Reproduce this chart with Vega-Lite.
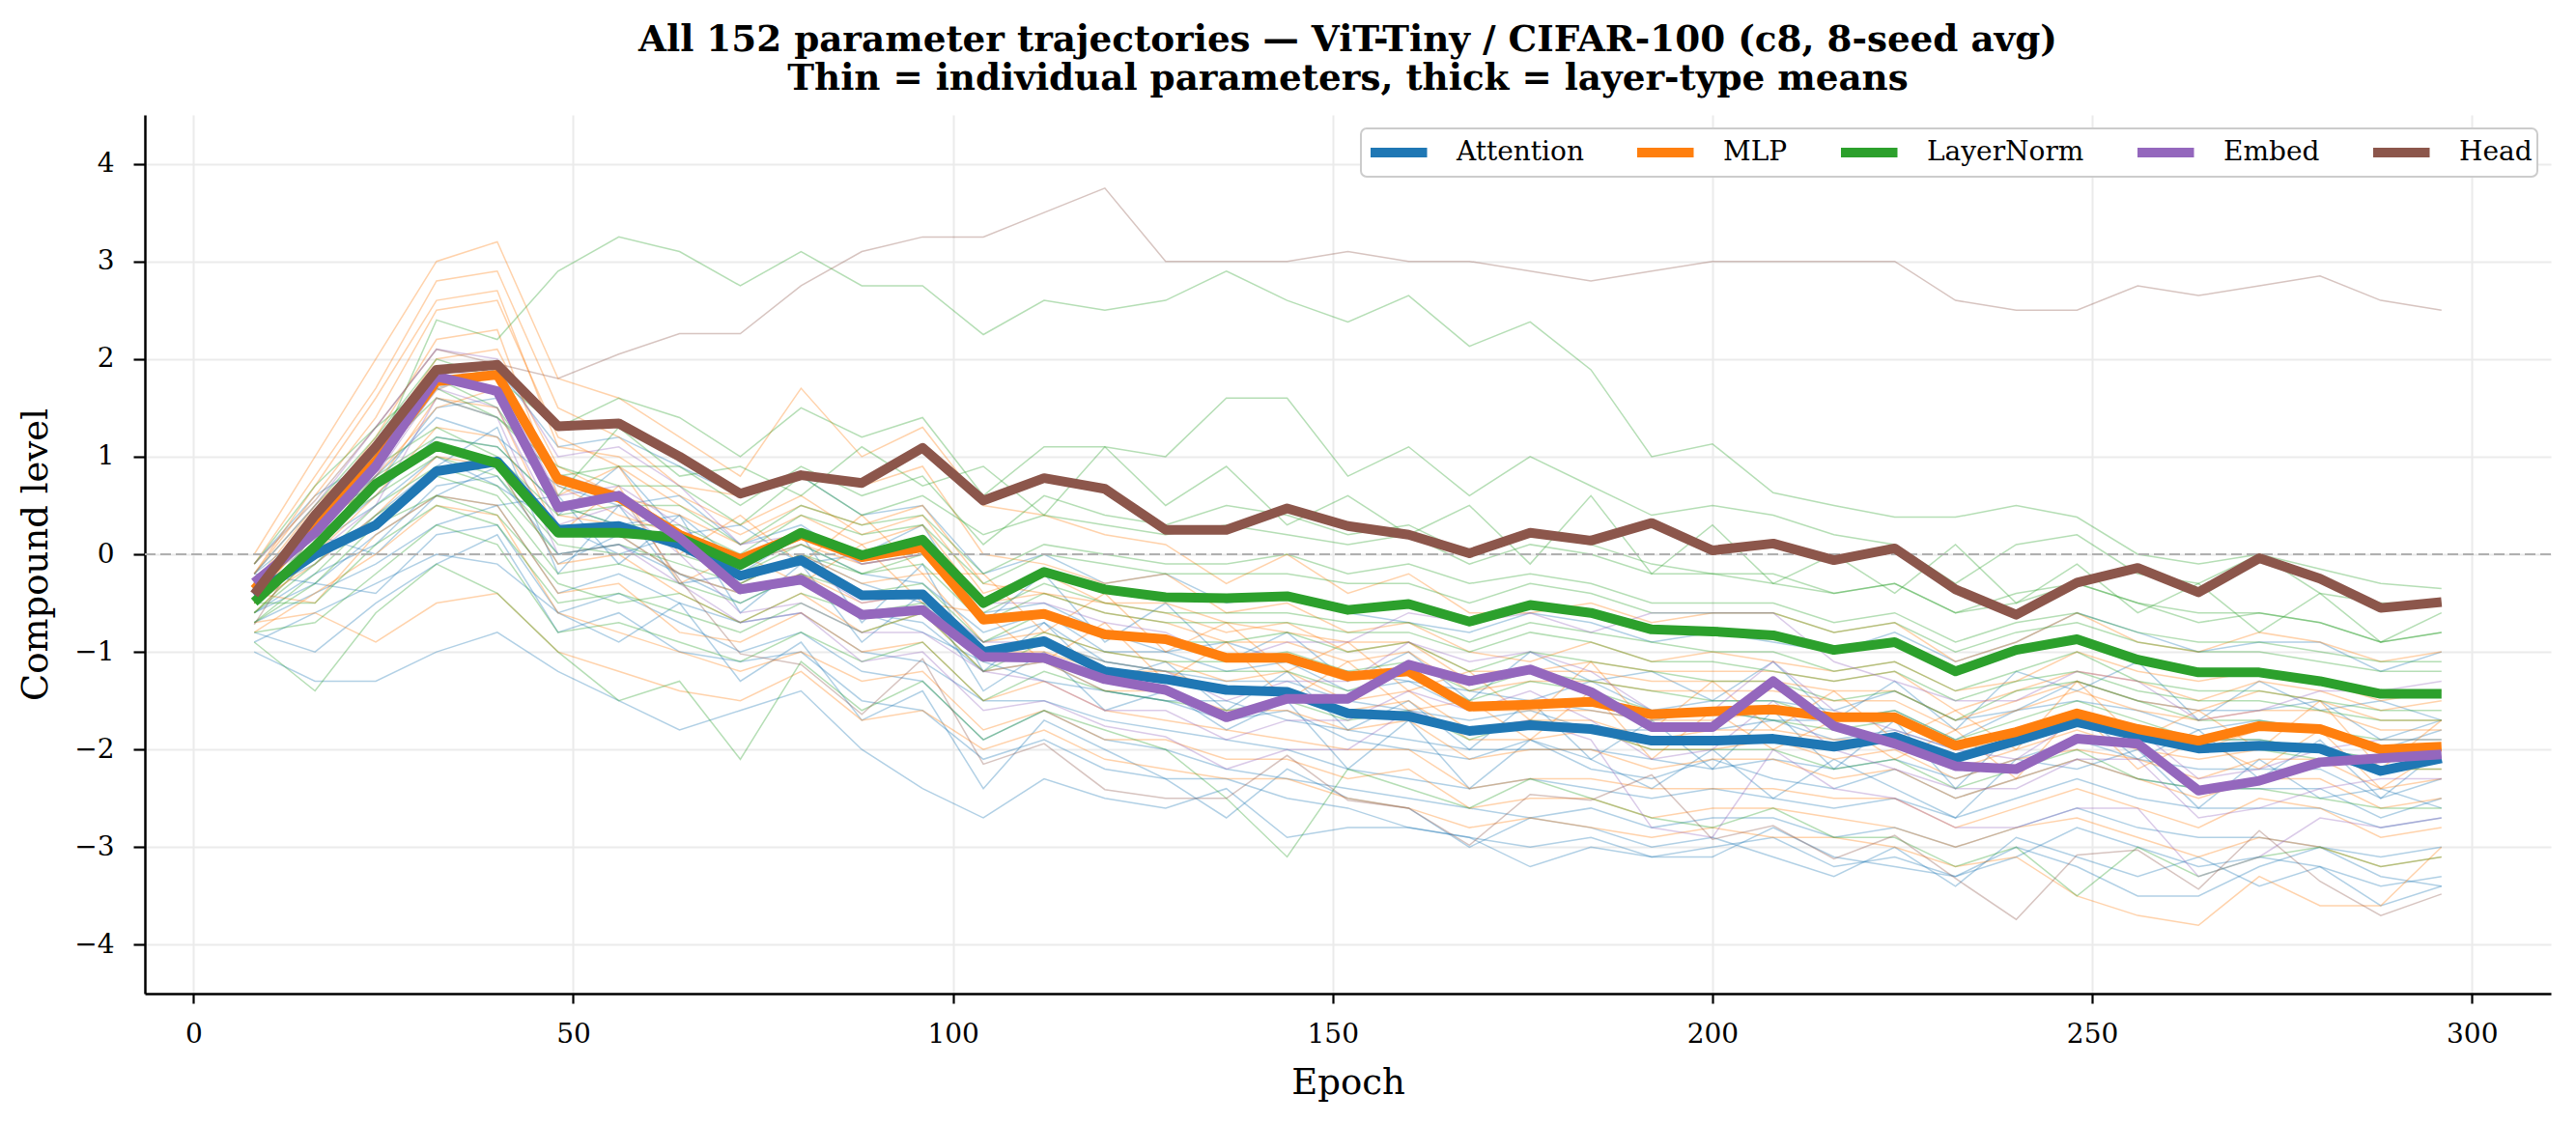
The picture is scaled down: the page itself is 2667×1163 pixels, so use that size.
{
  "$schema": "https://vega.github.io/schema/vega-lite/v6.json",
  "width": 2491,
  "height": 910,
  "autosize": {"type": "none"},
  "padding": {"left": 150, "top": 119, "right": 26, "bottom": 134},
  "background": "white",
  "title": {
    "text": ["All 152 parameter trajectories — ViT-Tiny / CIFAR-100 (c8, 8-seed avg)", "Thin = individual parameters, thick = layer-type means"],
    "font": "DejaVu Serif",
    "fontSize": 37.3,
    "fontWeight": "bold",
    "color": "black",
    "anchor": "middle",
    "lineHeight": 40,
    "offset": 18
  },
  "config": {
    "font": "DejaVu Serif",
    "view": {"stroke": null},
    "axis": {
      "labelFont": "DejaVu Serif",
      "titleFont": "DejaVu Serif",
      "labelFontSize": 28,
      "titleFontSize": 37,
      "titleFontWeight": "normal",
      "labelColor": "black",
      "titleColor": "black",
      "domainColor": "black",
      "domainWidth": 2.5,
      "tickColor": "black",
      "tickWidth": 2.2,
      "gridColor": "#ebebeb",
      "gridWidth": 2
    },
    "legend": {
      "orient": "top-right",
      "direction": "horizontal",
      "columns": 5,
      "offset": 14,
      "padding": 5,
      "fillColor": "white",
      "strokeColor": "#cccccc",
      "strokeWidth": 2,
      "cornerRadius": 6,
      "labelFont": "DejaVu Serif",
      "labelFontSize": 28,
      "labelColor": "black",
      "labelLimit": 400,
      "symbolType": "M-1,0H2.9",
      "symbolSize": 900,
      "symbolStrokeWidth": 10,
      "labelOffset": 54,
      "columnPadding": 35
    }
  },
  "data": {"name": "trajectories"},
  "datasets": {
    "trajectories": [
      {"epoch":8,"Attention":-0.42,"MLP":-0.36,"LayerNorm":-0.49,"Embed":-0.29,"Head":-0.41,"A1":-0.1,"A2":-0.3,"A3":-0.5,"A4":-0.4,"A5":-0.6,"A6":-0.3,"A7":-0.7,"A8":-0.2,"A9":-0.8,"A10":-1.0,"A11":-0.2,"A12":-0.6,"A13":-0.9,"A14":-0.4,"M1":0.0,"M2":-0.1,"M3":-0.2,"M4":-0.3,"M5":-0.4,"M6":-0.5,"M7":-0.6,"M8":-0.5,"M9":-0.4,"M10":-0.7,"M11":-0.2,"M12":-0.5,"M13":-0.3,"M14":-0.8,"L1":-0.3,"L2":-0.2,"L3":-0.4,"L4":-0.6,"L5":-0.5,"L6":-0.7,"L7":-0.5,"L8":-0.8,"L9":-0.9,"L10":-0.1,"L11":-0.3,"L12":-0.6,"L13":-0.4,"L14":-0.7,"E1":-0.2,"E2":-0.3,"E3":-0.3,"E4":-0.4,"H1":-0.1,"H2":-0.72},
      {"epoch":16,"Attention":0.0,"MLP":0.3,"LayerNorm":0.08,"Embed":0.22,"Head":0.4,"A1":0.6,"A2":0.4,"A3":0.1,"A4":-0.1,"A5":-0.2,"A6":0.2,"A7":-0.4,"A8":-0.3,"A9":-1.0,"A10":-1.3,"A11":0.3,"A12":-0.3,"A13":-0.6,"A14":0.1,"M1":1.0,"M2":0.8,"M3":0.6,"M4":0.4,"M5":0.2,"M6":0.3,"M7":0.0,"M8":-0.1,"M9":-0.5,"M10":-0.6,"M11":0.7,"M12":0.1,"M13":0.5,"M14":-0.4,"L1":0.3,"L2":0.5,"L3":0.3,"L4":0.0,"L5":0.2,"L6":-0.2,"L7":-0.5,"L8":-0.7,"L9":-1.4,"L10":0.7,"L11":0.4,"L12":-0.1,"L13":0.2,"L14":-0.3,"E1":0.5,"E2":0.3,"E3":0.1,"E4":0.0,"H1":0.55,"H2":0.25},
      {"epoch":24,"Attention":0.3,"MLP":0.95,"LayerNorm":0.72,"Embed":0.9,"Head":1.1,"A1":1.0,"A2":0.7,"A3":0.6,"A4":0.4,"A5":0.1,"A6":0.0,"A7":-0.1,"A8":-0.4,"A9":-0.5,"A10":-1.3,"A11":0.8,"A12":0.2,"A13":-0.3,"A14":0.5,"M1":2.0,"M2":1.7,"M3":1.4,"M4":1.2,"M5":1.0,"M6":0.7,"M7":0.6,"M8":0.4,"M9":0.2,"M10":-0.9,"M11":1.6,"M12":0.8,"M13":1.1,"M14":0.0,"L1":1.0,"L2":1.2,"L3":1.0,"L4":0.9,"L5":0.6,"L6":0.4,"L7":0.1,"L8":-0.2,"L9":-0.6,"L10":1.3,"L11":1.1,"L12":0.5,"L13":0.8,"L14":0.3,"E1":1.3,"E2":1.0,"E3":0.8,"E4":0.5,"H1":1.3,"H2":0.9},
      {"epoch":32,"Attention":0.85,"MLP":1.77,"LayerNorm":1.11,"Embed":1.82,"Head":1.89,"A1":1.7,"A2":1.5,"A3":1.2,"A4":0.9,"A5":0.7,"A6":0.6,"A7":0.3,"A8":0.2,"A9":-0.1,"A10":-1.0,"A11":1.4,"A12":0.6,"A13":0.0,"A14":1.0,"M1":3.0,"M2":2.8,"M3":2.5,"M4":2.2,"M5":1.9,"M6":1.6,"M7":1.3,"M8":1.0,"M9":0.6,"M10":-0.5,"M11":2.6,"M12":1.5,"M13":2.0,"M14":0.5,"L1":2.4,"L2":2.0,"L3":1.6,"L4":1.3,"L5":1.0,"L6":0.8,"L7":0.5,"L8":0.3,"L9":-0.1,"L10":1.8,"L11":1.7,"L12":0.9,"L13":1.2,"L14":0.6,"E1":2.1,"E2":1.9,"E3":1.7,"E4":1.6,"H1":2.1,"H2":1.68},
      {"epoch":40,"Attention":0.95,"MLP":1.84,"LayerNorm":0.93,"Embed":1.67,"Head":1.94,"A1":1.9,"A2":1.6,"A3":1.1,"A4":1.3,"A5":0.8,"A6":0.5,"A7":0.5,"A8":0.3,"A9":0.2,"A10":-0.8,"A11":1.2,"A12":0.9,"A13":-0.1,"A14":0.7,"M1":3.2,"M2":2.9,"M3":2.6,"M4":2.3,"M5":1.9,"M6":1.5,"M7":1.2,"M8":0.9,"M9":0.5,"M10":-0.4,"M11":2.7,"M12":1.7,"M13":2.1,"M14":0.4,"L1":2.2,"L2":1.8,"L3":1.4,"L4":1.0,"L5":0.8,"L6":0.6,"L7":0.3,"L8":0.1,"L9":-0.4,"L10":1.5,"L11":1.4,"L12":0.7,"L13":1.1,"L14":0.4,"E1":2.0,"E2":1.8,"E3":1.5,"E4":1.4,"H1":1.95,"H2":1.93},
      {"epoch":48,"Attention":0.25,"MLP":0.77,"LayerNorm":0.22,"Embed":0.48,"Head":1.31,"A1":1.1,"A2":0.4,"A3":0.5,"A4":-0.2,"A5":0.0,"A6":0.6,"A7":-0.4,"A8":-0.6,"A9":-0.8,"A10":-1.2,"A11":0.7,"A12":-0.1,"A13":-0.6,"A14":0.3,"M1":1.8,"M2":1.5,"M3":1.2,"M4":0.6,"M5":0.7,"M6":0.2,"M7":0.2,"M8":-0.1,"M9":-0.4,"M10":-1.0,"M11":1.1,"M12":0.4,"M13":0.9,"M14":-0.6,"L1":2.9,"L2":1.3,"L3":0.8,"L4":0.4,"L5":0.1,"L6":-0.2,"L7":-0.5,"L8":-0.8,"L9":-1.0,"L10":0.6,"L11":0.9,"L12":0.0,"L13":0.5,"L14":-0.3,"E1":1.0,"E2":0.6,"E3":0.3,"E4":0.0,"H1":1.8,"H2":0.82},
      {"epoch":56,"Attention":0.29,"MLP":0.58,"LayerNorm":0.22,"Embed":0.6,"Head":1.34,"A1":1.2,"A2":0.9,"A3":0.3,"A4":0.5,"A5":0.1,"A6":-0.1,"A7":-0.2,"A8":-0.4,"A9":-0.6,"A10":-1.5,"A11":0.5,"A12":0.2,"A13":-0.9,"A14":0.0,"M1":1.6,"M2":1.2,"M3":0.9,"M4":0.9,"M5":0.4,"M6":0.7,"M7":0.2,"M8":0.0,"M9":-0.3,"M10":-1.2,"M11":1.0,"M12":0.3,"M13":0.6,"M14":-0.8,"L1":3.25,"L2":1.6,"L3":0.9,"L4":0.5,"L5":0.0,"L6":-0.1,"L7":-0.4,"L8":-0.7,"L9":-1.5,"L10":1.3,"L11":0.7,"L12":0.1,"L13":0.3,"L14":-0.5,"E1":1.1,"E2":0.7,"E3":0.5,"E4":0.1,"H1":2.05,"H2":0.63},
      {"epoch":64,"Attention":0.1,"MLP":0.2,"LayerNorm":0.17,"Embed":0.17,"Head":1.0,"A1":0.9,"A2":0.2,"A3":0.4,"A4":-0.3,"A5":-0.2,"A6":0.4,"A7":-0.5,"A8":-0.7,"A9":-1.0,"A10":-1.8,"A11":0.6,"A12":-0.2,"A13":-0.5,"A14":0.2,"M1":1.2,"M2":0.7,"M3":0.5,"M4":0.0,"M5":0.2,"M6":-0.3,"M7":-0.2,"M8":-0.4,"M9":-0.8,"M10":-1.4,"M11":0.6,"M12":0.1,"M13":0.4,"M14":-1.0,"L1":3.1,"L2":1.4,"L3":0.9,"L4":0.5,"L5":0.0,"L6":-0.3,"L7":-0.6,"L8":-0.9,"L9":-1.3,"L10":0.8,"L11":0.7,"L12":-0.1,"L13":0.3,"L14":-0.4,"E1":0.7,"E2":0.3,"E3":0.0,"E4":-0.3,"H1":2.26,"H2":-0.26},
      {"epoch":72,"Attention":-0.22,"MLP":-0.05,"LayerNorm":-0.11,"Embed":-0.36,"Head":0.62,"A1":0.6,"A2":0.3,"A3":-0.1,"A4":-0.2,"A5":-0.4,"A6":-0.6,"A7":-0.7,"A8":-1.0,"A9":-1.1,"A10":-1.6,"A11":0.1,"A12":-0.5,"A13":-1.3,"A14":-0.3,"M1":0.8,"M2":0.6,"M3":0.2,"M4":0.4,"M5":-0.1,"M6":0.0,"M7":-0.4,"M8":-0.7,"M9":-0.9,"M10":-1.5,"M11":0.3,"M12":-0.3,"M13":0.1,"M14":-1.2,"L1":2.75,"L2":1.0,"L3":0.5,"L4":0.1,"L5":-0.2,"L6":-0.5,"L7":-0.8,"L8":-1.1,"L9":-2.1,"L10":0.9,"L11":0.3,"L12":-0.3,"L13":0.0,"L14":-0.7,"E1":0.1,"E2":-0.2,"E3":-0.6,"E4":-0.7,"H1":2.26,"H2":-1.02},
      {"epoch":80,"Attention":-0.06,"MLP":0.2,"LayerNorm":0.22,"Embed":-0.26,"Head":0.81,"A1":0.8,"A2":-0.1,"A3":0.1,"A4":0.2,"A5":-0.3,"A6":-0.1,"A7":-0.6,"A8":-0.8,"A9":-1.0,"A10":-1.4,"A11":0.3,"A12":-0.2,"A13":-0.9,"A14":0.0,"M1":1.7,"M2":0.8,"M3":0.5,"M4":-0.1,"M5":0.1,"M6":-0.3,"M7":-0.2,"M8":-0.4,"M9":-0.6,"M10":-1.2,"M11":0.6,"M12":0.0,"M13":0.4,"M14":-1.0,"L1":3.1,"L2":1.5,"L3":0.9,"L4":0.5,"L5":0.1,"L6":-0.2,"L7":-0.5,"L8":-0.8,"L9":-1.1,"L10":0.6,"L11":0.8,"L12":0.0,"L13":0.4,"L14":-0.4,"E1":0.2,"E2":-0.1,"E3":-0.5,"E4":-0.6,"H1":2.75,"H2":-1.13},
      {"epoch":88,"Attention":-0.42,"MLP":-0.03,"LayerNorm":-0.01,"Embed":-0.62,"Head":0.73,"A1":0.4,"A2":0.0,"A3":-0.2,"A4":-0.7,"A5":-0.6,"A6":-0.9,"A7":-1.0,"A8":-1.2,"A9":-1.5,"A10":-2.0,"A11":-0.1,"A12":-0.6,"A13":-1.7,"A14":-0.3,"M1":1.0,"M2":0.7,"M3":0.3,"M4":0.4,"M5":-0.1,"M6":0.1,"M7":-0.5,"M8":-0.8,"M9":-1.0,"M10":-1.7,"M11":0.2,"M12":-0.3,"M13":0.1,"M14":-1.3,"L1":2.75,"L2":1.2,"L3":0.6,"L4":0.3,"L5":-0.2,"L6":-0.4,"L7":-0.8,"L8":-1.1,"L9":-1.6,"L10":1.1,"L11":0.4,"L12":-0.2,"L13":0.2,"L14":-0.6,"E1":-0.1,"E2":-0.5,"E3":-0.8,"E4":-1.1,"H1":3.1,"H2":-1.64},
      {"epoch":96,"Attention":-0.41,"MLP":0.07,"LayerNorm":0.15,"Embed":-0.57,"Head":1.09,"A1":0.5,"A2":0.3,"A3":-0.3,"A4":-0.1,"A5":-0.7,"A6":-0.4,"A7":-1.1,"A8":-1.3,"A9":-1.6,"A10":-2.4,"A11":0.0,"A12":-0.8,"A13":-1.4,"A14":-0.5,"M1":1.3,"M2":0.9,"M3":0.5,"M4":-0.2,"M5":0.0,"M6":-0.5,"M7":-0.4,"M8":-0.6,"M9":-0.9,"M10":-1.6,"M11":0.4,"M12":-0.2,"M13":0.3,"M14":-1.2,"L1":2.75,"L2":1.4,"L3":0.8,"L4":0.4,"L5":0.0,"L6":-0.3,"L7":-0.6,"L8":-0.9,"L9":-1.3,"L10":0.7,"L11":0.6,"L12":-0.1,"L13":0.3,"L14":-0.5,"E1":0.0,"E2":-0.4,"E3":-0.8,"E4":-1.0,"H1":3.25,"H2":-1.07},
      {"epoch":104,"Attention":-1.0,"MLP":-0.67,"LayerNorm":-0.5,"Embed":-1.05,"Head":0.55,"A1":-0.2,"A2":-0.7,"A3":-0.8,"A4":-1.2,"A5":-1.2,"A6":-1.4,"A7":-1.5,"A8":-1.9,"A9":-2.1,"A10":-2.7,"A11":-0.6,"A12":-1.1,"A13":-2.4,"A14":-0.9,"M1":0.5,"M2":0.0,"M3":-0.3,"M4":-0.2,"M5":-0.7,"M6":-0.6,"M7":-1.0,"M8":-1.2,"M9":-1.5,"M10":-2.0,"M11":-0.4,"M12":-0.9,"M13":-0.5,"M14":-1.8,"L1":2.25,"L2":0.6,"L3":0.1,"L4":-0.2,"L5":-0.6,"L6":-0.9,"L7":-1.2,"L8":-1.5,"L9":-1.9,"L10":0.9,"L11":0.2,"L12":-0.7,"L13":-0.3,"L14":-1.1,"E1":-0.5,"E2":-0.9,"E3":-1.2,"E4":-1.6,"H1":3.25,"H2":-2.15},
      {"epoch":112,"Attention":-0.89,"MLP":-0.61,"LayerNorm":-0.18,"Embed":-1.06,"Head":0.78,"A1":0.0,"A2":-0.2,"A3":-0.6,"A4":-0.7,"A5":-1.1,"A6":-1.0,"A7":-1.5,"A8":-1.6,"A9":-1.9,"A10":-2.3,"A11":-0.5,"A12":-1.3,"A13":-1.7,"A14":-0.7,"M1":0.4,"M2":-0.1,"M3":-0.4,"M4":-0.8,"M5":-0.6,"M6":-1.1,"M7":-1.0,"M8":-1.1,"M9":-1.3,"M10":-1.8,"M11":-0.2,"M12":-0.8,"M13":-0.4,"M14":-1.6,"L1":2.6,"L2":1.1,"L3":0.6,"L4":0.1,"L5":-0.3,"L6":-0.6,"L7":-0.9,"L8":-1.2,"L9":-1.6,"L10":0.4,"L11":0.4,"L12":-0.4,"L13":0.0,"L14":-0.8,"E1":-0.5,"E2":-0.9,"E3":-1.3,"E4":-1.5,"H1":3.5,"H2":-1.94},
      {"epoch":120,"Attention":-1.2,"MLP":-0.82,"LayerNorm":-0.36,"Embed":-1.28,"Head":0.67,"A1":-0.3,"A2":-0.9,"A3":-1.0,"A4":-1.3,"A5":-1.4,"A6":-1.6,"A7":-1.7,"A8":-1.9,"A9":-2.2,"A10":-2.5,"A11":-0.8,"A12":-1.4,"A13":-2.0,"A14":-1.1,"M1":0.2,"M2":-0.3,"M3":-0.5,"M4":-0.4,"M5":-0.8,"M6":-0.7,"M7":-1.2,"M8":-1.4,"M9":-1.6,"M10":-2.1,"M11":-0.5,"M12":-1.0,"M13":-0.6,"M14":-1.9,"L1":2.5,"L2":1.1,"L3":0.4,"L4":0.0,"L5":-0.5,"L6":-0.8,"L7":-1.1,"L8":-1.4,"L9":-1.8,"L10":1.1,"L11":0.3,"L12":-0.6,"L13":-0.1,"L14":-1.0,"E1":-0.7,"E2":-1.1,"E3":-1.6,"E4":-1.76,"H1":3.75,"H2":-2.41},
      {"epoch":128,"Attention":-1.28,"MLP":-0.87,"LayerNorm":-0.44,"Embed":-1.39,"Head":0.25,"A1":-0.2,"A2":-0.5,"A3":-1.0,"A4":-1.1,"A5":-1.5,"A6":-1.4,"A7":-1.8,"A8":-2.0,"A9":-2.3,"A10":-2.6,"A11":-1.0,"A12":-1.5,"A13":-2.3,"A14":-1.2,"M1":0.1,"M2":-0.2,"M3":-0.6,"M4":-1.0,"M5":-0.9,"M6":-1.3,"M7":-1.2,"M8":-1.4,"M9":-1.7,"M10":-2.2,"M11":-0.5,"M12":-1.1,"M13":-0.7,"M14":-1.9,"L1":2.6,"L2":1.0,"L3":0.3,"L4":-0.1,"L5":-0.6,"L6":-0.9,"L7":-1.2,"L8":-1.5,"L9":-2.0,"L10":0.5,"L11":0.2,"L12":-0.7,"L13":-0.2,"L14":-1.1,"E1":-0.8,"E2":-1.2,"E3":-1.6,"E4":-1.87,"H1":3.0,"H2":-2.5},
      {"epoch":136,"Attention":-1.39,"MLP":-1.06,"LayerNorm":-0.45,"Embed":-1.67,"Head":0.25,"A1":-0.5,"A2":-1.1,"A3":-1.2,"A4":-1.6,"A5":-1.5,"A6":-1.8,"A7":-1.9,"A8":-2.2,"A9":-2.3,"A10":-2.4,"A11":-0.9,"A12":-1.7,"A13":-2.7,"A14":-1.3,"M1":-0.3,"M2":-0.6,"M3":-0.8,"M4":-0.7,"M5":-1.1,"M6":-0.9,"M7":-1.4,"M8":-1.6,"M9":-1.8,"M10":-2.3,"M11":-0.7,"M12":-1.3,"M13":-0.9,"M14":-2.1,"L1":2.9,"L2":1.6,"L3":0.5,"L4":-0.1,"L5":-0.6,"L6":-0.9,"L7":-1.2,"L8":-1.6,"L9":-2.5,"L10":0.9,"L11":0.3,"L12":-0.7,"L13":-0.2,"L14":-1.1,"E1":-1.1,"E2":-1.5,"E3":-1.9,"E4":-2.2,"H1":3.0,"H2":-2.5},
      {"epoch":144,"Attention":-1.41,"MLP":-1.06,"LayerNorm":-0.43,"Embed":-1.48,"Head":0.47,"A1":-0.4,"A2":-0.8,"A3":-1.1,"A4":-1.2,"A5":-1.7,"A6":-1.5,"A7":-2.0,"A8":-2.3,"A9":-2.5,"A10":-2.9,"A11":-1.1,"A12":-1.6,"A13":-2.2,"A14":-1.3,"M1":0.0,"M2":-0.5,"M3":-0.7,"M4":-1.2,"M5":-1.1,"M6":-1.5,"M7":-1.4,"M8":-1.6,"M9":-1.9,"M10":-2.3,"M11":-0.8,"M12":-1.2,"M13":-0.9,"M14":-2.1,"L1":2.6,"L2":1.6,"L3":0.4,"L4":0.0,"L5":-0.6,"L6":-0.8,"L7":-1.2,"L8":-1.5,"L9":-3.1,"L10":0.3,"L11":0.2,"L12":-0.7,"L13":-0.2,"L14":-1.0,"E1":-0.9,"E2":-1.3,"E3":-1.7,"E4":-2.0,"H1":3.0,"H2":-2.06},
      {"epoch":152,"Attention":-1.63,"MLP":-1.25,"LayerNorm":-0.57,"Embed":-1.48,"Head":0.29,"A1":-0.6,"A2":-1.3,"A3":-1.4,"A4":-1.8,"A5":-1.8,"A6":-2.2,"A7":-2.2,"A8":-2.4,"A9":-2.6,"A10":-2.8,"A11":-1.2,"A12":-1.9,"A13":-2.5,"A14":-1.5,"M1":-0.4,"M2":-0.8,"M3":-1.0,"M4":-0.9,"M5":-1.3,"M6":-1.1,"M7":-1.6,"M8":-1.8,"M9":-2.0,"M10":-2.5,"M11":-0.9,"M12":-1.5,"M13":-1.1,"M14":-2.3,"L1":2.38,"L2":0.8,"L3":0.2,"L4":-0.2,"L5":-0.7,"L6":-1.0,"L7":-1.4,"L8":-1.7,"L9":-2.2,"L10":0.6,"L11":0.1,"L12":-0.8,"L13":-0.3,"L14":-1.2,"E1":-0.9,"E2":-1.3,"E3":-1.7,"E4":-2.0,"H1":3.1,"H2":-2.52},
      {"epoch":160,"Attention":-1.66,"MLP":-1.2,"LayerNorm":-0.51,"Embed":-1.13,"Head":0.2,"A1":-0.7,"A2":-1.0,"A3":-1.3,"A4":-1.5,"A5":-1.9,"A6":-1.7,"A7":-2.3,"A8":-2.5,"A9":-2.8,"A10":-2.8,"A11":-1.3,"A12":-2.0,"A13":-2.6,"A14":-1.6,"M1":-0.2,"M2":-0.7,"M3":-0.9,"M4":-1.4,"M5":-1.2,"M6":-1.6,"M7":-1.5,"M8":-1.7,"M9":-2.0,"M10":-2.6,"M11":-0.9,"M12":-1.4,"M13":-1.0,"M14":-2.2,"L1":2.65,"L2":1.1,"L3":0.3,"L4":-0.1,"L5":-0.7,"L6":-0.9,"L7":-1.2,"L8":-1.6,"L9":-2.4,"L10":0.2,"L11":0.2,"L12":-0.8,"L13":-0.3,"L14":-1.1,"E1":-0.6,"E2":-0.9,"E3":-1.4,"E4":-1.6,"H1":3.0,"H2":-2.6},
      {"epoch":168,"Attention":-1.81,"MLP":-1.56,"LayerNorm":-0.69,"Embed":-1.3,"Head":0.01,"A1":-0.8,"A2":-1.5,"A3":-1.6,"A4":-2.0,"A5":-2.0,"A6":-2.4,"A7":-2.4,"A8":-2.6,"A9":-2.9,"A10":-2.9,"A11":-1.4,"A12":-2.1,"A13":-3.0,"A14":-1.7,"M1":-0.6,"M2":-1.0,"M3":-1.3,"M4":-1.2,"M5":-1.6,"M6":-1.5,"M7":-1.9,"M8":-2.1,"M9":-2.4,"M10":-2.8,"M11":-1.2,"M12":-1.8,"M13":-1.4,"M14":-2.6,"L1":2.13,"L2":0.6,"L3":0.0,"L4":-0.3,"L5":-0.9,"L6":-1.2,"L7":-1.5,"L8":-1.9,"L9":-2.6,"L10":0.5,"L11":-0.1,"L12":-1.0,"L13":-0.5,"L14":-1.4,"E1":-0.7,"E2":-1.1,"E3":-1.6,"E4":-1.8,"H1":3.0,"H2":-2.98},
      {"epoch":176,"Attention":-1.75,"MLP":-1.54,"LayerNorm":-0.52,"Embed":-1.18,"Head":0.22,"A1":-0.6,"A2":-1.0,"A3":-1.5,"A4":-1.5,"A5":-2.0,"A6":-1.9,"A7":-2.3,"A8":-2.7,"A9":-3.0,"A10":-3.2,"A11":-1.5,"A12":-1.9,"A13":-2.7,"A14":-1.6,"M1":-0.6,"M2":-1.1,"M3":-1.2,"M4":-1.7,"M5":-1.6,"M6":-1.9,"M7":-1.9,"M8":-2.0,"M9":-2.3,"M10":-2.7,"M11":-1.2,"M12":-1.7,"M13":-1.3,"M14":-2.5,"L1":2.38,"L2":1.0,"L3":0.2,"L4":-0.2,"L5":-0.7,"L6":-1.0,"L7":-1.3,"L8":-1.7,"L9":-2.3,"L10":-0.1,"L11":0.1,"L12":-0.8,"L13":-0.3,"L14":-1.2,"E1":-0.6,"E2":-1.0,"E3":-1.4,"E4":-1.7,"H1":2.9,"H2":-2.46},
      {"epoch":184,"Attention":-1.79,"MLP":-1.51,"LayerNorm":-0.6,"Embed":-1.41,"Head":0.14,"A1":-0.7,"A2":-1.3,"A3":-1.6,"A4":-2.1,"A5":-2.0,"A6":-2.1,"A7":-2.4,"A8":-2.6,"A9":-2.9,"A10":-3.0,"A11":-1.3,"A12":-2.2,"A13":-2.8,"A14":-1.8,"M1":-0.5,"M2":-0.9,"M3":-1.2,"M4":-1.1,"M5":-1.6,"M6":-1.4,"M7":-1.8,"M8":-2.0,"M9":-2.3,"M10":-2.8,"M11":-1.1,"M12":-1.7,"M13":-1.3,"M14":-2.5,"L1":1.89,"L2":0.7,"L3":0.1,"L4":-0.3,"L5":-0.8,"L6":-1.1,"L7":-1.4,"L8":-1.8,"L9":-2.5,"L10":0.6,"L11":0.0,"L12":-0.9,"L13":-0.4,"L14":-1.3,"E1":-0.8,"E2":-1.2,"E3":-1.7,"E4":-1.9,"H1":2.8,"H2":-2.52},
      {"epoch":192,"Attention":-1.91,"MLP":-1.64,"LayerNorm":-0.77,"Embed":-1.77,"Head":0.32,"A1":-0.9,"A2":-1.2,"A3":-1.7,"A4":-1.7,"A5":-2.1,"A6":-2.4,"A7":-2.5,"A8":-2.8,"A9":-3.1,"A10":-3.1,"A11":-1.6,"A12":-2.3,"A13":-3.0,"A14":-1.8,"M1":-0.7,"M2":-1.1,"M3":-1.3,"M4":-1.8,"M5":-1.7,"M6":-2.1,"M7":-2.0,"M8":-2.2,"M9":-2.4,"M10":-2.9,"M11":-1.2,"M12":-1.9,"M13":-1.4,"M14":-2.7,"L1":1.0,"L2":0.4,"L3":-0.1,"L4":-0.5,"L5":-0.9,"L6":-1.2,"L7":-1.6,"L8":-2.0,"L9":-2.7,"L10":-0.2,"L11":-0.2,"L12":-1.1,"L13":-0.6,"L14":-1.4,"E1":-0.6,"E2":-1.6,"E3":-2.1,"E4":-2.8,"H1":2.9,"H2":-2.26},
      {"epoch":200,"Attention":-1.91,"MLP":-1.61,"LayerNorm":-0.79,"Embed":-1.77,"Head":0.04,"A1":-0.8,"A2":-1.5,"A3":-1.6,"A4":-2.2,"A5":-2.2,"A6":-2.0,"A7":-2.4,"A8":-2.7,"A9":-3.0,"A10":-3.1,"A11":-1.5,"A12":-2.1,"A13":-2.9,"A14":-1.8,"M1":-0.6,"M2":-1.0,"M3":-1.3,"M4":-1.3,"M5":-1.7,"M6":-1.6,"M7":-2.0,"M8":-2.1,"M9":-2.4,"M10":-2.8,"M11":-1.2,"M12":-1.8,"M13":-1.4,"M14":-2.6,"L1":1.13,"L2":0.5,"L3":-0.2,"L4":-0.5,"L5":-1.0,"L6":-1.3,"L7":-1.6,"L8":-2.0,"L9":-2.8,"L10":0.3,"L11":-0.2,"L12":-1.1,"L13":-0.6,"L14":-1.5,"E1":-0.6,"E2":-1.6,"E3":-2.0,"E4":-2.9,"H1":3.0,"H2":-2.92},
      {"epoch":208,"Attention":-1.89,"MLP":-1.59,"LayerNorm":-0.83,"Embed":-1.3,"Head":0.11,"A1":-0.9,"A2":-1.1,"A3":-1.7,"A4":-1.6,"A5":-2.1,"A6":-2.5,"A7":-2.5,"A8":-2.7,"A9":-2.9,"A10":-2.8,"A11":-1.5,"A12":-2.3,"A13":-3.1,"A14":-1.7,"M1":-0.6,"M2":-1.1,"M3":-1.3,"M4":-1.8,"M5":-1.6,"M6":-2.0,"M7":-1.9,"M8":-2.1,"M9":-2.4,"M10":-2.9,"M11":-1.2,"M12":-1.8,"M13":-1.4,"M14":-2.6,"L1":0.63,"L2":0.4,"L3":-0.2,"L4":-0.5,"L5":-1.0,"L6":-1.3,"L7":-1.7,"L8":-2.0,"L9":-2.6,"L10":-0.3,"L11":-0.3,"L12":-1.2,"L13":-0.6,"L14":-1.5,"E1":-0.6,"E2":-1.1,"E3":-1.5,"E4":-2.0,"H1":3.0,"H2":-2.78},
      {"epoch":216,"Attention":-1.97,"MLP":-1.67,"LayerNorm":-0.98,"Embed":-1.76,"Head":-0.06,"A1":-1.0,"A2":-1.7,"A3":-1.7,"A4":-2.2,"A5":-2.2,"A6":-2.1,"A7":-2.6,"A8":-2.9,"A9":-3.2,"A10":-3.1,"A11":-1.6,"A12":-2.4,"A13":-3.3,"A14":-1.9,"M1":-0.8,"M2":-1.2,"M3":-1.4,"M4":-1.4,"M5":-1.7,"M6":-1.7,"M7":-2.1,"M8":-2.3,"M9":-2.5,"M10":-2.9,"M11":-1.3,"M12":-1.9,"M13":-1.5,"M14":-2.7,"L1":0.5,"L2":0.2,"L3":-0.4,"L4":-0.7,"L5":-1.2,"L6":-1.5,"L7":-1.8,"L8":-2.2,"L9":-2.9,"L10":0.0,"L11":-0.4,"L12":-1.3,"L13":-0.8,"L14":-1.7,"E1":-1.1,"E2":-1.6,"E3":-2.0,"E4":-2.4,"H1":3.0,"H2":-3.12},
      {"epoch":224,"Attention":-1.87,"MLP":-1.67,"LayerNorm":-0.9,"Embed":-1.94,"Head":0.06,"A1":-0.8,"A2":-1.3,"A3":-1.6,"A4":-1.7,"A5":-2.1,"A6":-2.4,"A7":-2.5,"A8":-2.8,"A9":-3.1,"A10":-3.2,"A11":-1.4,"A12":-2.2,"A13":-3.0,"A14":-1.8,"M1":-0.7,"M2":-1.1,"M3":-1.4,"M4":-1.9,"M5":-1.7,"M6":-2.1,"M7":-2.0,"M8":-2.2,"M9":-2.5,"M10":-3.0,"M11":-1.2,"M12":-1.9,"M13":-1.5,"M14":-2.8,"L1":0.38,"L2":0.1,"L3":-0.3,"L4":-0.6,"L5":-1.1,"L6":-1.4,"L7":-1.7,"L8":-2.1,"L9":-2.9,"L10":-0.4,"L11":-0.3,"L12":-1.2,"L13":-0.7,"L14":-1.6,"E1":-1.3,"E2":-1.8,"E3":-2.2,"E4":-2.5,"H1":3.0,"H2":-2.88},
      {"epoch":232,"Attention":-2.09,"MLP":-1.96,"LayerNorm":-1.2,"Embed":-2.17,"Head":-0.36,"A1":-1.1,"A2":-1.8,"A3":-1.9,"A4":-2.4,"A5":-2.3,"A6":-2.7,"A7":-2.7,"A8":-3.0,"A9":-3.3,"A10":-3.3,"A11":-1.7,"A12":-2.5,"A13":-3.4,"A14":-2.0,"M1":-1.1,"M2":-1.4,"M3":-1.7,"M4":-1.6,"M5":-2.0,"M6":-1.8,"M7":-2.3,"M8":-2.5,"M9":-2.8,"M10":-3.2,"M11":-1.6,"M12":-2.2,"M13":-1.8,"M14":-3.0,"L1":0.38,"L2":-0.3,"L3":-0.6,"L4":-0.9,"L5":-1.4,"L6":-1.7,"L7":-2.0,"L8":-2.4,"L9":-3.2,"L10":0.1,"L11":-0.6,"L12":-1.5,"L13":-1.0,"L14":-1.9,"E1":-1.5,"E2":-2.0,"E3":-2.4,"E4":-2.8,"H1":2.6,"H2":-3.32},
      {"epoch":240,"Attention":-1.91,"MLP":-1.82,"LayerNorm":-0.98,"Embed":-2.2,"Head":-0.62,"A1":-0.9,"A2":-1.2,"A3":-1.6,"A4":-1.8,"A5":-2.1,"A6":-2.1,"A7":-2.5,"A8":-2.8,"A9":-3.1,"A10":-3.0,"A11":-1.6,"A12":-2.3,"A13":-2.9,"A14":-1.8,"M1":-0.9,"M2":-1.3,"M3":-1.5,"M4":-2.0,"M5":-1.9,"M6":-2.3,"M7":-2.1,"M8":-2.3,"M9":-2.6,"M10":-3.1,"M11":-1.4,"M12":-2.0,"M13":-1.6,"M14":-2.8,"L1":0.5,"L2":0.1,"L3":-0.4,"L4":-0.7,"L5":-1.2,"L6":-1.4,"L7":-1.8,"L8":-2.2,"L9":-3.0,"L10":-0.5,"L11":-0.5,"L12":-1.3,"L13":-0.8,"L14":-1.7,"E1":-1.5,"E2":-2.1,"E3":-2.4,"E4":-2.8,"H1":2.5,"H2":-3.74},
      {"epoch":248,"Attention":-1.72,"MLP":-1.63,"LayerNorm":-0.87,"Embed":-1.89,"Head":-0.29,"A1":-0.6,"A2":-1.4,"A3":-1.5,"A4":-1.6,"A5":-1.9,"A6":-2.2,"A7":-2.3,"A8":-2.6,"A9":-2.8,"A10":-3.2,"A11":-1.3,"A12":-2.1,"A13":-3.1,"A14":-1.7,"M1":-0.6,"M2":-1.0,"M3":-1.3,"M4":-1.3,"M5":-1.7,"M6":-1.6,"M7":-2.0,"M8":-2.1,"M9":-2.4,"M10":-3.5,"M11":-1.2,"M12":-1.8,"M13":-1.4,"M14":-2.7,"L1":0.38,"L2":0.2,"L3":-0.3,"L4":-0.6,"L5":-1.0,"L6":-1.3,"L7":-1.6,"L8":-2.0,"L9":-3.5,"L10":-0.1,"L11":-0.3,"L12":-1.2,"L13":-0.7,"L14":-1.5,"E1":-1.2,"E2":-1.7,"E3":-2.1,"E4":-2.6,"H1":2.5,"H2":-3.08},
      {"epoch":256,"Attention":-1.86,"MLP":-1.79,"LayerNorm":-1.08,"Embed":-1.94,"Head":-0.14,"A1":-0.8,"A2":-1.1,"A3":-1.6,"A4":-2.1,"A5":-2.1,"A6":-2.0,"A7":-2.5,"A8":-2.8,"A9":-3.0,"A10":-3.5,"A11":-1.5,"A12":-2.3,"A13":-3.3,"A14":-1.8,"M1":-0.9,"M2":-1.2,"M3":-1.5,"M4":-1.9,"M5":-1.8,"M6":-2.2,"M7":-2.1,"M8":-2.3,"M9":-2.6,"M10":-3.7,"M11":-1.3,"M12":-2.0,"M13":-1.6,"M14":-2.9,"L1":0.0,"L2":-0.2,"L3":-0.5,"L4":-0.8,"L5":-1.3,"L6":-1.5,"L7":-1.9,"L8":-2.3,"L9":-3.0,"L10":-0.6,"L11":-0.5,"L12":-1.4,"L13":-0.9,"L14":-1.7,"E1":-1.3,"E2":-1.8,"E3":-2.1,"E4":-2.6,"H1":2.75,"H2":-3.03},
      {"epoch":264,"Attention":-1.99,"MLP":-1.91,"LayerNorm":-1.21,"Embed":-2.42,"Head":-0.39,"A1":-1.0,"A2":-1.7,"A3":-1.8,"A4":-1.8,"A5":-2.2,"A6":-2.6,"A7":-2.6,"A8":-2.9,"A9":-3.2,"A10":-3.5,"A11":-1.6,"A12":-2.4,"A13":-3.1,"A14":-1.9,"M1":-1.0,"M2":-1.3,"M3":-1.6,"M4":-1.6,"M5":-2.0,"M6":-1.9,"M7":-2.3,"M8":-2.5,"M9":-2.8,"M10":-3.8,"M11":-1.5,"M12":-2.1,"M13":-1.7,"M14":-3.1,"L1":-0.1,"L2":-0.3,"L3":-0.6,"L4":-0.9,"L5":-1.4,"L6":-1.7,"L7":-2.0,"L8":-2.4,"L9":-3.3,"L10":-0.3,"L11":-0.7,"L12":-1.5,"L13":-1.0,"L14":-1.9,"E1":-1.7,"E2":-2.3,"E3":-2.7,"E4":-3.3,"H1":2.65,"H2":-3.43},
      {"epoch":272,"Attention":-1.96,"MLP":-1.76,"LayerNorm":-1.21,"Embed":-2.32,"Head":-0.04,"A1":-0.9,"A2":-1.3,"A3":-1.7,"A4":-2.3,"A5":-2.2,"A6":-2.1,"A7":-2.6,"A8":-2.9,"A9":-3.1,"A10":-3.2,"A11":-1.6,"A12":-2.4,"A13":-3.4,"A14":-1.9,"M1":-0.8,"M2":-1.2,"M3":-1.4,"M4":-2.0,"M5":-1.8,"M6":-2.2,"M7":-2.1,"M8":-2.3,"M9":-2.5,"M10":-3.3,"M11":-1.3,"M12":-2.0,"M13":-1.6,"M14":-2.9,"L1":0.0,"L2":0.0,"L3":-0.6,"L4":-0.9,"L5":-1.4,"L6":-1.7,"L7":-2.0,"L8":-2.4,"L9":-3.1,"L10":-0.8,"L11":-0.6,"L12":-1.5,"L13":-1.0,"L14":-1.9,"E1":-1.6,"E2":-2.2,"E3":-2.6,"E4":-3.1,"H1":2.75,"H2":-2.83},
      {"epoch":280,"Attention":-1.99,"MLP":-1.79,"LayerNorm":-1.3,"Embed":-2.13,"Head":-0.25,"A1":-0.9,"A2":-1.6,"A3":-1.8,"A4":-1.9,"A5":-2.2,"A6":-2.5,"A7":-2.6,"A8":-3.0,"A9":-3.2,"A10":-3.0,"A11":-1.5,"A12":-2.4,"A13":-3.2,"A14":-2.0,"M1":-0.9,"M2":-1.3,"M3":-1.5,"M4":-1.5,"M5":-1.8,"M6":-1.8,"M7":-2.1,"M8":-2.3,"M9":-2.6,"M10":-3.6,"M11":-1.4,"M12":-2.0,"M13":-1.6,"M14":-3.0,"L1":-0.15,"L2":-0.4,"L3":-0.7,"L4":-1.0,"L5":-1.5,"L6":-1.8,"L7":-2.1,"L8":-2.5,"L9":-3.0,"L10":-0.4,"L11":-0.7,"L12":-1.6,"L13":-1.1,"L14":-2.0,"E1":-1.4,"E2":-2.0,"E3":-2.4,"E4":-2.7,"H1":2.85,"H2":-3.35},
      {"epoch":288,"Attention":-2.22,"MLP":-2.0,"LayerNorm":-1.43,"Embed":-2.09,"Head":-0.55,"A1":-1.2,"A2":-1.5,"A3":-2.0,"A4":-2.5,"A5":-2.5,"A6":-2.4,"A7":-2.8,"A8":-3.1,"A9":-3.4,"A10":-3.3,"A11":-1.9,"A12":-2.7,"A13":-3.6,"A14":-2.1,"M1":-1.1,"M2":-1.5,"M3":-1.7,"M4":-2.2,"M5":-2.0,"M6":-2.4,"M7":-2.4,"M8":-2.6,"M9":-2.9,"M10":-3.6,"M11":-1.6,"M12":-2.2,"M13":-1.8,"M14":-3.2,"L1":-0.3,"L2":-0.5,"L3":-0.9,"L4":-1.1,"L5":-1.6,"L6":-1.9,"L7":-2.2,"L8":-2.6,"L9":-3.2,"L10":-0.9,"L11":-0.9,"L12":-1.7,"L13":-1.2,"L14":-2.1,"E1":-1.4,"E2":-1.9,"E3":-2.3,"E4":-2.8,"H1":2.6,"H2":-3.7},
      {"epoch":296,"Attention":-2.09,"MLP":-1.97,"LayerNorm":-1.43,"Embed":-2.05,"Head":-0.49,"A1":-1.0,"A2":-1.7,"A3":-1.8,"A4":-2.0,"A5":-2.3,"A6":-2.6,"A7":-2.7,"A8":-3.0,"A9":-3.3,"A10":-3.4,"A11":-1.7,"A12":-2.5,"A13":-3.4,"A14":-2.0,"M1":-1.0,"M2":-1.4,"M3":-1.7,"M4":-1.7,"M5":-2.0,"M6":-2.0,"M7":-2.3,"M8":-2.5,"M9":-2.8,"M10":-3.0,"M11":-1.5,"M12":-2.2,"M13":-1.8,"M14":-3.1,"L1":-0.35,"L2":-0.5,"L3":-0.8,"L4":-1.1,"L5":-1.6,"L6":-1.9,"L7":-2.2,"L8":-2.6,"L9":-3.1,"L10":-0.6,"L11":-0.8,"L12":-1.7,"L13":-1.2,"L14":-2.1,"E1":-1.3,"E2":-1.9,"E3":-2.3,"E4":-2.7,"H1":2.5,"H2":-3.48}
    ]
  },
  "layer": [
    {
      "transform": [{"fold": ["A1","A2","A3","A4","A5","A6","A7","A8","A9","A10","A11","A12","A13","A14"], "as": ["param", "level"]}],
      "mark": {"type": "line", "color": "#1f77b4", "strokeWidth": 1.5, "opacity": 0.35},
      "encoding": {
        "x": {"field": "epoch", "type": "quantitative", "title": "Epoch",
              "scale": {"domain": [-6.4, 310.4], "nice": false, "zero": false},
              "axis": {"values": [0, 50, 100, 150, 200, 250, 300], "format": "d", "grid": true, "tickSize": 10, "labelPadding": 18, "titleY": 103, "titleBaseline": "alphabetic"}},
        "y": {"field": "level", "type": "quantitative", "title": "Compound level",
              "scale": {"domain": [-4.5, 4.5], "nice": false, "zero": false},
              "axis": {"values": [-4, -3, -2, -1, 0, 1, 2, 3, 4], "format": "d", "grid": true, "tickSize": 12, "labelPadding": 20, "titleX": -102, "titleY": 455, "titleAngle": -90, "titleAlign": "center", "titleBaseline": "alphabetic"}},
        "detail": {"field": "param", "type": "nominal"}
      }
    },
    {
      "transform": [{"fold": ["M1","M2","M3","M4","M5","M6","M7","M8","M9","M10","M11","M12","M13","M14"], "as": ["param", "level"]}],
      "mark": {"type": "line", "color": "#ff7f0e", "strokeWidth": 1.5, "opacity": 0.35},
      "encoding": {
        "x": {"field": "epoch", "type": "quantitative", "title": "Epoch", "scale": {"domain": [-6.4, 310.4], "nice": false, "zero": false}},
        "y": {"field": "level", "type": "quantitative", "title": "Compound level", "scale": {"domain": [-4.5, 4.5], "nice": false, "zero": false}},
        "detail": {"field": "param", "type": "nominal"}
      }
    },
    {
      "transform": [{"fold": ["L1","L2","L3","L4","L5","L6","L7","L8","L9","L10","L11","L12","L13","L14"], "as": ["param", "level"]}],
      "mark": {"type": "line", "color": "#2ca02c", "strokeWidth": 1.5, "opacity": 0.35},
      "encoding": {
        "x": {"field": "epoch", "type": "quantitative", "title": "Epoch", "scale": {"domain": [-6.4, 310.4], "nice": false, "zero": false}},
        "y": {"field": "level", "type": "quantitative", "title": "Compound level", "scale": {"domain": [-4.5, 4.5], "nice": false, "zero": false}},
        "detail": {"field": "param", "type": "nominal"}
      }
    },
    {
      "transform": [{"fold": ["E1","E2","E3","E4"], "as": ["param", "level"]}],
      "mark": {"type": "line", "color": "#9467bd", "strokeWidth": 1.5, "opacity": 0.35},
      "encoding": {
        "x": {"field": "epoch", "type": "quantitative", "title": "Epoch", "scale": {"domain": [-6.4, 310.4], "nice": false, "zero": false}},
        "y": {"field": "level", "type": "quantitative", "title": "Compound level", "scale": {"domain": [-4.5, 4.5], "nice": false, "zero": false}},
        "detail": {"field": "param", "type": "nominal"}
      }
    },
    {
      "transform": [{"fold": ["H1","H2"], "as": ["param", "level"]}],
      "mark": {"type": "line", "color": "#8c564b", "strokeWidth": 1.5, "opacity": 0.35},
      "encoding": {
        "x": {"field": "epoch", "type": "quantitative", "title": "Epoch", "scale": {"domain": [-6.4, 310.4], "nice": false, "zero": false}},
        "y": {"field": "level", "type": "quantitative", "title": "Compound level", "scale": {"domain": [-4.5, 4.5], "nice": false, "zero": false}},
        "detail": {"field": "param", "type": "nominal"}
      }
    },
    {
      "data": {"values": [{"level": 0}]},
      "mark": {"type": "rule", "color": "#b0b0b0", "strokeWidth": 2, "strokeDash": [11, 5]},
      "encoding": {
        "y": {"field": "level", "type": "quantitative", "title": "Compound level", "scale": {"domain": [-4.5, 4.5], "nice": false, "zero": false}}
      }
    },
    {
      "transform": [{"fold": ["Attention","MLP","LayerNorm","Embed","Head"], "as": ["type", "level"]}],
      "mark": {"type": "line", "strokeWidth": 10, "strokeJoin": "round", "strokeCap": "butt"},
      "encoding": {
        "x": {"field": "epoch", "type": "quantitative", "title": "Epoch", "scale": {"domain": [-6.4, 310.4], "nice": false, "zero": false}},
        "y": {"field": "level", "type": "quantitative", "title": "Compound level", "scale": {"domain": [-4.5, 4.5], "nice": false, "zero": false}},
        "color": {"field": "type", "type": "nominal",
                  "scale": {"domain": ["Attention","MLP","LayerNorm","Embed","Head"], "range": ["#1f77b4","#ff7f0e","#2ca02c","#9467bd","#8c564b"]},
                  "legend": {"title": null}}
      }
    }
  ]
}
